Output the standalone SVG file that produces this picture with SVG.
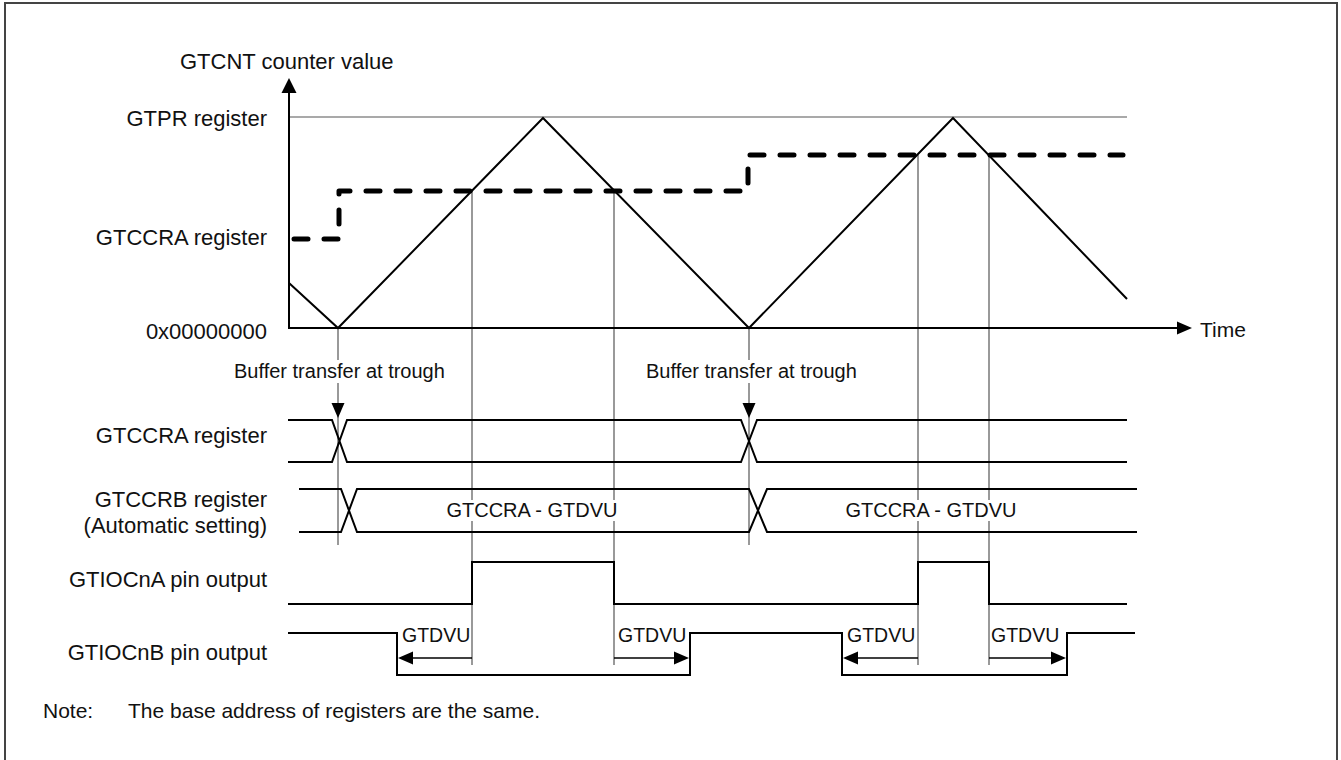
<svg xmlns="http://www.w3.org/2000/svg" width="1341" height="760" viewBox="0 0 1341 760">
<style>
text{font-family:"Liberation Sans",Arial,sans-serif;fill:#111}
.lbl{font-size:22px;text-anchor:end}
.in{font-size:20px}
.mid{text-anchor:middle}
.thin{stroke:#555;stroke-width:1.2;fill:none}
.sig{stroke:#000;stroke-width:2;fill:none}
.dash{stroke:#000;stroke-width:5;fill:none;stroke-dasharray:14 16;stroke-linecap:round;stroke-linejoin:round}
.head{fill:#000}
</style>
<rect x="0" y="0" width="1341" height="760" fill="#fff"/>
<rect id="frame" x="5" y="3" width="1332" height="800" fill="none" stroke="#444" stroke-width="2"/>

<g id="labels">
<text x="180" y="69" style="font-size:22px">GTCNT counter value</text>
<text class="lbl" x="267" y="126">GTPR register</text>
<text class="lbl" x="267" y="245">GTCCRA register</text>
<text class="lbl" x="267" y="339">0x00000000</text>
<text x="1200" y="337" style="font-size:21px">Time</text>
<text class="lbl" x="267" y="443">GTCCRA register</text>
<text class="lbl" x="267" y="507">GTCCRB register</text>
<text class="lbl" x="267" y="533">(Automatic setting)</text>
<text class="lbl" x="267" y="587">GTIOCnA pin output</text>
<text class="lbl" x="267" y="660">GTIOCnB pin output</text>
<text x="43" y="718" style="font-size:21px">Note:</text>
<text x="128" y="718" style="font-size:21px">The base address of registers are the same.</text>
</g>

<g id="guides">
<line class="thin" x1="289" y1="117" x2="1127" y2="117"/>
<line class="thin" x1="338" y1="328" x2="338" y2="360"/>
<line class="thin" x1="338" y1="383" x2="338" y2="545"/>
<line class="thin" x1="749" y1="328" x2="749" y2="360"/>
<line class="thin" x1="749" y1="383" x2="749" y2="545"/>
<line class="thin" x1="472" y1="191" x2="472" y2="665"/>
<line class="thin" x1="614" y1="191" x2="614" y2="665"/>
<line class="thin" x1="918" y1="155" x2="918" y2="665"/>
<line class="thin" x1="989" y1="155" x2="989" y2="665"/>
</g>

<g id="axes">
<line class="sig" x1="289" y1="90" x2="289" y2="328"/>
<polygon class="head" points="289,78 281.5,93 296.5,93"/>
<line class="sig" x1="288" y1="328" x2="1179" y2="328"/>
<polygon class="head" points="1192,328 1177,321.5 1177,334.5"/>
</g>

<g id="counter">
<polyline class="sig" points="289,283 338,328 543,118 749,328 953,118 1127,299"/>
<path class="dash" d="M294,239 H339 V191 H748 V155 H1123"/>
</g>

<g id="buffer-transfer">
<text class="in" x="234" y="378">Buffer transfer at trough</text>
<polygon class="head" points="338,418 331.5,403 344.5,403"/>
<text class="in" x="646" y="378">Buffer transfer at trough</text>
<polygon class="head" points="749,418 742.5,403 755.5,403"/>
</g>

<g id="gtccra-row">
<path class="sig" d="M288,420 H332 L347,462 H741 L757,420 H1127 M288,462 H332 L347,420 H741 L757,462 H1127"/>
</g>

<g id="gtccrb-row">
<path class="sig" d="M299,489 H341 L357,532 H749 L767,489 H1137 M299,532 H341 L357,489 H749 L767,532 H1137"/>
<rect x="446" y="500" width="172" height="21" fill="#fff"/>
<text class="in mid" x="532" y="517">GTCCRA - GTDVU</text>
<rect x="845" y="500" width="172" height="21" fill="#fff"/>
<text class="in mid" x="931" y="517">GTCCRA - GTDVU</text>
</g>

<g id="gtiocna-row">
<path class="sig" d="M288,604 H472 V562 H614 V604 H918 V562 H989 V604 H1127"/>
</g>

<g id="gtiocnb-row">
<path class="sig" d="M288,633 H397 V675 H690 V633 H842 V675 H1067 V633 H1135"/>
</g>

<g id="gtdvu-arrows">
<line x1="472" y1="658" x2="410" y2="658" stroke="#000" stroke-width="1.5"/>
<polygon class="head" points="398,658 413,651.5 413,664.5"/>
<line x1="614" y1="658" x2="677" y2="658" stroke="#000" stroke-width="1.5"/>
<polygon class="head" points="689,658 674,651.5 674,664.5"/>
<line x1="918" y1="658" x2="855" y2="658" stroke="#000" stroke-width="1.5"/>
<polygon class="head" points="843,658 858,651.5 858,664.5"/>
<line x1="989" y1="658" x2="1054" y2="658" stroke="#000" stroke-width="1.5"/>
<polygon class="head" points="1066,658 1051,651.5 1051,664.5"/>
<text x="402" y="642" style="font-size:19.5px">GTDVU</text>
<text x="618" y="642" style="font-size:19.5px">GTDVU</text>
<text x="847" y="642" style="font-size:19.5px">GTDVU</text>
<text x="991" y="642" style="font-size:19.5px">GTDVU</text>
</g>
</svg>
